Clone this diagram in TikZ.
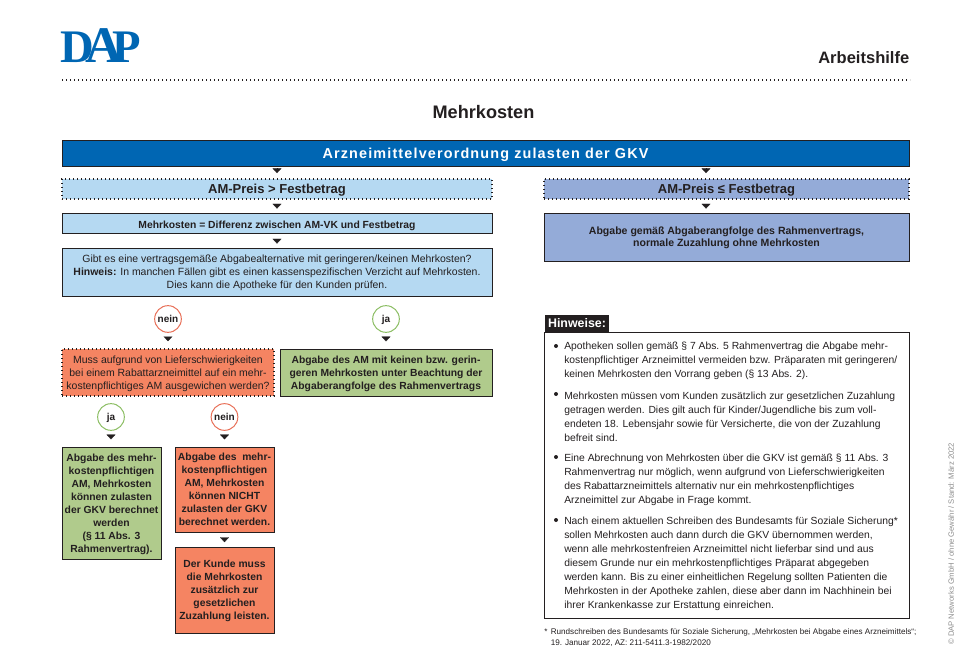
\documentclass[tikz,border=0pt]{standalone}
\usepackage{fontspec}
\setmainfont{Liberation Sans}
\newfontfamily\logofont{Liberation Serif}
\newfontfamily\kopffont[LetterSpace=8]{Liberation Sans}
\usetikzlibrary{arrows.meta}
\definecolor{dapblau}{RGB}{0, 102, 179}
\definecolor{hellblau}{RGB}{181, 217, 242}
\definecolor{mittelblau}{RGB}{148, 171, 216}
\definecolor{rotkasten}{RGB}{245, 132, 98}
\definecolor{gruenkasten}{RGB}{176, 203, 140}
\definecolor{rotring}{RGB}{232, 112, 88}
\definecolor{gruenring}{RGB}{140, 190, 100}
\definecolor{tinte}{RGB}{35, 31, 32}
\tikzset{
  kasten/.style 2 args={draw=tinte, line width=0.7pt, inner sep=0pt, align=center, text=tinte, text depth=0pt,
    minimum width=#1*0.75pt, minimum height=#2*0.75pt},
  punktiert/.style={line width=0.9pt, dash pattern=on 0.9pt off 2.1pt},
  tiefer/.style={execute at begin node=\rule{0pt}{8pt}},
  fett/.style={font=\fontsize{7.75}{9.7}\selectfont\bfseries},
  normal/.style={font=\fontsize{7.85}{9.7}\selectfont},
  zwischen/.style={font=\fontsize{9.75}{11}\selectfont\bfseries},
  ring/.style={circle, draw=#1, line width=0.75pt, fill=white, minimum size=20pt, inner sep=0pt,
    text=tinte, text depth=0pt, font=\fontsize{7.5}{9.7}\selectfont\bfseries},
  pfeil/.style 2 args={-{Triangle[width=6.6pt,length=3.5pt]}, tinte, line width=0.1pt,
    shorten <=#1pt, shorten >=#2pt},
  hinweis/.style={anchor=base west, inner sep=0pt, align=left, text=tinte,
    font=\fontsize{7.75}{10.5}\selectfont},
  punkt/.style={circle, fill=tinte, inner sep=0pt, minimum size=3pt}
}
\begin{document}
\begin{tikzpicture}[x=0.75pt, y=-0.75pt]
  \useasboundingbox (0,0) rectangle (967,656);

  \node[text=dapblau, font=\logofont\fontsize{35}{35}\selectfont\bfseries, anchor=base, inner sep=0pt] (logo) at (101,63)
    {D\kern-6.5pt{\fontsize{38.5}{38.5}\selectfont A}\kern-7.5pt P};
  \node[text=tinte, font=\fontsize{12.4}{14}\selectfont\bfseries, anchor=east, inner sep=0pt] (art) at (909.5,58) {Arbeitshilfe};
  \coordinate (linieL) at (62,80);
  \coordinate (linieR) at (910,80);
  \draw[tinte, punktiert] (linieL) -- (linieR);
  \node[text=tinte, font=\fontsize{13.6}{16}\selectfont\bfseries, inner sep=0pt] (titel) at (483.5,112) {Mehrkosten};

  \node[kasten={847}{26}, fill=dapblau, text=white, font=\kopffont\fontsize{10.8}{12}\selectfont\bfseries] (kopf) at (485.5,153)
    {Arzneimittelverordnung zulasten der GKV};

  \node[kasten={430}{20}, fill=hellblau, zwischen, punktiert] (preisA) at (277,189) {AM-Preis > Festbetrag};
  \node[kasten={430}{20}, fill=hellblau, fett, tiefer] (differenz) at (277,223) {Mehrkosten = Differenz zwischen AM-VK und Festbetrag};
  \node[kasten={430}{48}, fill=hellblau, normal, tiefer] (frage) at (277,272)
    {Gibt es eine vertragsgemäße Abgabealternative mit geringeren/keinen Mehrkosten?\\
     \textbf{Hinweis:} In manchen Fällen gibt es einen kassenspezifischen Verzicht auf Mehrkosten.\\
     Dies kann die Apotheke für den Kunden prüfen.};

  \node[kasten={365}{20}, fill=mittelblau, zwischen, punktiert] (preisB) at (726.5,189) {AM-Preis ≤ Festbetrag};
  \node[kasten={365}{48}, fill=mittelblau, tiefer, font=\fontsize{7.9}{9}\selectfont\bfseries] (abgabeB) at (726.5,237)
    {Abgabe gemäß Abgaberangfolge des Rahmenvertrags,\\normale Zuzahlung ohne Mehrkosten};
  \coordinate (spalteB) at (706,172);

  \node[ring=rotring] (nein1) at (168,319) {nein};
  \node[ring=gruenring] (ja1) at (386,319) {ja};
  \node[kasten={212}{47}, fill=rotkasten, normal, punktiert] (ausweich) at (168,372.5)
    {Muss aufgrund von Lieferschwierigkeiten\\
     bei einem Rabattarzneimittel auf ein mehr-\\
     kostenpflichtiges AM ausgewichen werden?};
  \node[kasten={212}{47}, fill=gruenkasten, fett] (keine) at (386,372.5)
    {Abgabe des AM mit keinen bzw. gerin-\\
     geren Mehrkosten unter Beachtung der\\
     Abgaberangfolge des Rahmenvertrags};

  \node[ring=gruenring] (ja2) at (111,417) {ja};
  \node[ring=rotring] (nein2) at (224.5,417) {nein};
  \node[kasten={99}{112}, fill=gruenkasten, fett] (zulasten) at (111.5,503)
    {Abgabe des mehr-\\kostenpflichtigen\\AM, Mehrkosten\\können zulasten\\der GKV berechnet\\werden\\(§ 11 Abs. 3\\Rahmenvertrag).};
  \node[kasten={99}{85}, fill=rotkasten, fett] (nicht) at (224.5,489.5)
    {Abgabe des\ \ mehr-\\kostenpflichtigen\\AM, Mehrkosten\\können NICHT\\zulasten der GKV\\berechnet werden.};
  \node[kasten={99}{86}, fill=rotkasten, fett] (kunde) at (224.5,590)
    {Der Kunde muss\\die Mehrkosten\\zusätzlich zur\\gesetzlichen\\Zuzahlung leisten.};

  \draw[pfeil={2.2}{4}] (preisA.north |- kopf.south) -- (preisA.north);
  \draw[pfeil={3.7}{3}] (preisA.south) -- (differenz.north);
  \draw[pfeil={4.4}{3}] (differenz.south) -- (frage.north);
  \draw[pfeil={2.2}{4}] (spalteB |- kopf.south) -- (spalteB |- preisB.north);
  \draw[pfeil={3.7}{3}] (spalteB |- preisB.south) -- (spalteB |- abgabeB.north);
  \draw[pfeil={3.4}{5.4}] (nein1.south) -- (ausweich.north);
  \draw[pfeil={3.4}{5.4}] (ja1.south) -- (keine.north);
  \draw[pfeil={3.4}{5.4}] (ja2.south) -- (ja2.south |- zulasten.north);
  \draw[pfeil={3.4}{5.4}] (nein2.south) -- (nicht.north);
  \draw[pfeil={4.4}{3.3}] (nicht.south) -- (kunde.north);

  \node[kasten={365}{286}] (rahmen) at (726.5,475) {};
  \node[fill=tinte, text=white, font=\fontsize{9.3}{11}\selectfont\bfseries, inner sep=0pt,
    minimum width=64*0.75pt, minimum height=17*0.75pt] (marke) at (577,323.5) {Hinweise:};

  \node[punkt] (p1) at (556,346) {};
  \node[hinweis] (text1) at (564,377.5)
    {Apotheken sollen gemäß § 7 Abs. 5 Rahmenvertrag die Abgabe mehr-\\
     kostenpflichtiger Arzneimittel vermeiden bzw. Präparaten mit geringeren/\\
     keinen Mehrkosten den Vorrang geben (§ 13 Abs. 2).};
  \node[punkt] (p2) at (556,394) {};
  \node[hinweis] (text2) at (564,441)
    {Mehrkosten müssen vom Kunden zusätzlich zur gesetzlichen Zuzahlung\\
     getragen werden. Dies gilt auch für Kinder/Jugendliche bis zum voll-\\
     endeten 18. Lebensjahr sowie für Versicherte, die von der Zuzahlung\\
     befreit sind.};
  \node[punkt] (p3) at (556,457) {};
  \node[hinweis] (text3) at (564,503)
    {Eine Abrechnung von Mehrkosten über die GKV ist gemäß § 11 Abs. 3\\
     Rahmenvertrag nur möglich, wenn aufgrund von Lieferschwierigkeiten\\
     des Rabattarzneimittels alternativ nur ein mehrkostenpflichtiges\\
     Arzneimittel zur Abgabe in Frage kommt.};
  \node[punkt] (p4) at (556,520) {};
  \node[hinweis] (text4) at (564,608)
    {Nach einem aktuellen Schreiben des Bundesamts für Soziale Sicherung*\\
     sollen Mehrkosten auch dann durch die GKV übernommen werden,\\
     wenn alle mehrkostenfreien Arzneimittel nicht lieferbar sind und aus\\
     diesem Grunde nur ein mehrkostenpflichtiges Präparat abgegeben\\
     werden kann. Bis zu einer einheitlichen Regelung sollten Patienten die\\
     Mehrkosten in der Apotheke zahlen, diese aber dann im Nachhinein bei\\
     ihrer Krankenkasse zur Erstattung einreichen.};

  \node[hinweis, font=\fontsize{6.1}{8.2}\selectfont] (stern) at (544,634.5) {*};
  \node[hinweis, font=\fontsize{6.1}{8.2}\selectfont] (fussnote) at (550.5,645.5)
    {Rundschreiben des Bundesamts für Soziale Sicherung, „Mehrkosten bei Abgabe eines Arzneimittels“;\\
     19. Januar 2022, AZ: 211-5411.3-1982/2020};

  \node[rotate=90, anchor=west, inner sep=0pt, text=black!45, font=\fontsize{5.75}{7}\selectfont] (stand) at (951,645)
    {© DAP Networks GmbH / ohne Gewähr / Stand: März 2022};
\end{tikzpicture}
\end{document}
